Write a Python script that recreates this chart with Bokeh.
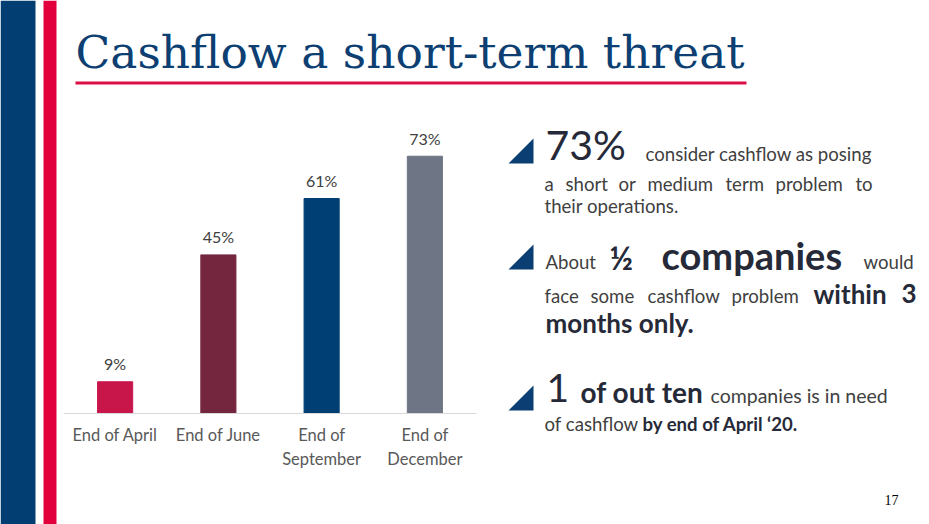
from bokeh.plotting import figure
from bokeh.layouts import column, row
from bokeh.models import ColumnDataSource, FactorRange, Range1d
from bokeh.core.properties import value
from bokeh.embed import file_html
from bokeh.resources import INLINE

# ---- data ----
categories = ["End of April", "End of June", "End of\nSeptember", "End of\nDecember"]
values = [9, 45, 61, 73]
bar_colors = ["#C8164B", "#74263E", "#003F74", "#6E7585"]
value_labels = [f"{v}%" for v in values]

title_text = "Cashflow a short-term threat"
page_number = "17"

BLUE = "#033E72"
RED = "#E2003C"
DARK = "#262A38"
GRAY = "#404040"


def panel(x0, x1, y0, y1):
    """A blank figure whose data coordinates equal page pixels."""
    f = figure(width=x1 - x0, height=y1 - y0, x_range=Range1d(x0, x1),
               y_range=Range1d(y1, y0), x_axis_type=None, y_axis_type=None,
               output_backend="svg", toolbar_location=None, frame_align=False,
               min_border=0, min_border_left=0, min_border_right=0,
               min_border_top=0, min_border_bottom=0)
    f.outline_line_color = None
    f.grid.visible = False
    f.background_fill_color = "white"
    f.border_fill_color = "white"
    return f


def txt(f, x, y, text, size, color=GRAY, font="Lato", weight="normal", k=0.38):
    f.text(x=[x], y=[y - k * size], text=[text], text_font=value(font),
           text_font_size=f"{size}px", text_color=color, text_font_style=weight,
           text_baseline="alphabetic", text_align="left")


TOP, MID, W, H = 120, 480, 929, 524

# ---- left stripes (full height) ----
left = panel(0, 63, 0, H)
left.quad(left=[0, 43], right=[35, 56], top=[0, 0], bottom=[H, H],
          color=[BLUE, RED], line_color=None)

# ---- header ----
head = panel(63, W, 0, TOP)
head.quad(left=[75], right=[746], top=[81], bottom=[84], color="#D90F45", line_color=None)
txt(head, 75, 67, title_text, 45.5, color="#0D3F73", font="DejaVu Serif", k=0.33)

# ---- chart ----
p = figure(width=490 - 63, height=MID - TOP, x_range=FactorRange(factors=categories),
           y_range=Range1d(0, 82), y_axis_type=None, output_backend="svg",
           toolbar_location=None, frame_align=False, min_border_left=0,
           min_border_right=14, min_border_top=4, min_border_bottom=MID - 413)
p.outline_line_color = None
p.background_fill_color = "white"
p.border_fill_color = "white"
p.xgrid.grid_line_color = None
p.ygrid.grid_line_color = None

src = ColumnDataSource(dict(cat=categories, val=values, color=bar_colors, lab=value_labels))
p.vbar(x="cat", top="val", width=0.34, color="color", source=src)
p.text(x="cat", y="val", text="lab", source=src, text_align="center",
       text_baseline="alphabetic", y_offset=-18, text_font=value("Lato"),
       text_font_size="16px", text_color=GRAY)

ax = p.xaxis[0]
ax.axis_line_color = "#D9D9D9"
ax.axis_line_width = 1
ax.major_tick_line_color = None
ax.minor_tick_line_color = None
ax.major_tick_out = 0
ax.major_tick_in = 0
ax.major_label_standoff = 11
ax.major_label_text_font = "Lato"
ax.major_label_text_font_size = "16.5px"
ax.major_label_text_color = "#595959"

# ---- right text ----
r = panel(490, W, TOP, MID)
tri_x = [[508, 533, 533]] * 3
tri_y = [[163, 163, 138], [269, 269, 244], [410, 410, 385]]
r.patches(xs=tri_x, ys=tri_y, color="#0B3F73", line_color=None)

S = 18.6
# block 1
txt(r, 545, 160, "73%", 41, DARK)
txt(r, 645, 161, "consider cashflow as posing", S)
for x, w in [(544, "a"), (565, "short"), (618, "or"), (647, "medium"), (725, "term"),
             (775, "problem"), (855, "to")]:
    txt(r, x, 191, w, S)
txt(r, 544, 213, "their operations.", S)
# block 2
txt(r, 545, 269, "About", S)
txt(r, 609, 269, "½", 32, DARK, weight="bold")
txt(r, 661, 269, "companies", 38, DARK, weight="bold")
txt(r, 863, 269, "would", S)
for x, w in [(544, "face"), (590, "some"), (647, "cashflow"), (731, "problem")]:
    txt(r, x, 303, w, S)
txt(r, 813, 303, "within", 26, DARK, weight="bold")
txt(r, 901, 303, "3", 26, DARK, weight="bold")
txt(r, 545, 332, "months only.", 26, DARK, weight="bold")
# block 3
txt(r, 546, 402, "1", 39, DARK)
txt(r, 580, 402, "of out ten", 28, DARK, weight="bold")
txt(r, 710, 402, "companies is in need", 19.5)
txt(r, 544, 431, "of cashflow", S)
txt(r, 642, 431, "by end of April \u201820.", S, DARK, weight="bold")

# ---- footer ----
foot = panel(63, W, MID, H)
txt(foot, 884, 505, page_number, 14, "#000000", font="Liberation Serif", k=0.4)

layout = row(left, column(head, row(p, r), foot))
open("out.html", "w").write(file_html(layout, INLINE))
